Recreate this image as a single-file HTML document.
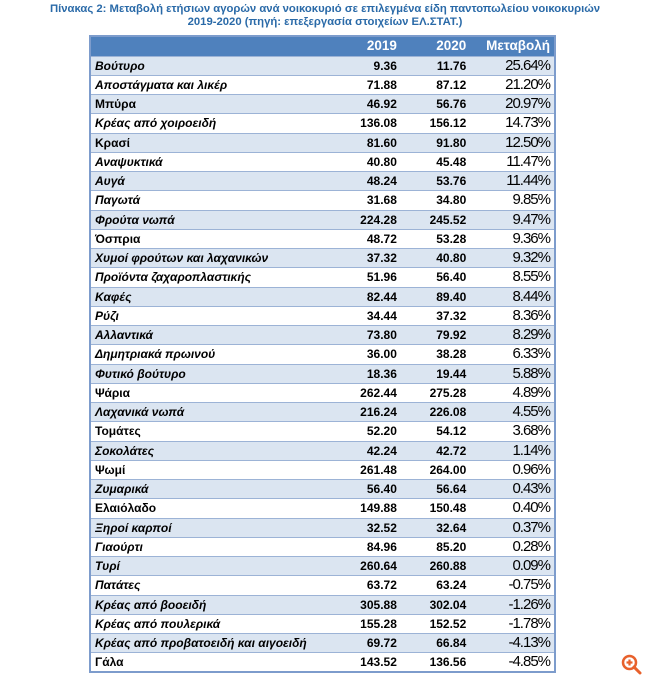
<!DOCTYPE html>
<html><head><meta charset="utf-8">
<style>
body{margin:0;width:650px;height:681px;background:#fff;position:relative;font-family:"Liberation Sans",Arial,sans-serif;overflow:hidden}
.title{position:absolute;left:0;top:3px;width:650px;text-align:center;color:#2a6aa8;font-weight:bold;font-size:11.3px;line-height:13px}
table{position:absolute;left:89px;top:35px;width:467px;border-collapse:collapse;border:2px solid #7d9ccc}
tr{height:19.25px}
td{padding:0 4px;font-size:12px;font-weight:bold;border-bottom:1px solid #9cb3d6;white-space:nowrap;line-height:14px}
tr.h{height:20px}
tr.h td{background:#4f81bd;color:#fff;font-size:13.5px;text-align:right}
tr.b td{background:#dbe5f1}
td.n{text-align:left}
td.v{text-align:right}
td.p{text-align:right;font-weight:normal;font-size:15px;letter-spacing:-1px}
</style></head><body>
<div class="title">Πίνακας 2: Μεταβολή ετήσιων αγορών ανά νοικοκυριό σε επιλεγμένα είδη παντοπωλείου νοικοκυριών<br>2019-2020 (πηγή: επεξεργασία στοιχείων ΕΛ.ΣΤΑΤ.)</div>
<table>
<colgroup><col style="width:237px"><col style="width:75px"><col style="width:70px"><col style="width:85px"></colgroup>
<tbody id="tb">
<tr class="h"><td></td><td>2019</td><td>2020</td><td>Μεταβολή</td></tr>
</tbody></table>
<svg style="position:absolute;left:620px;top:653px" width="24" height="24" viewBox="0 0 24 24"><circle cx="9.5" cy="9.5" r="6.5" fill="none" stroke="#e8612c" stroke-width="2.5"/><line x1="14" y1="14" x2="20" y2="20" stroke="#e8612c" stroke-width="3" stroke-linecap="round"/><line x1="6.5" y1="9.5" x2="12.5" y2="9.5" stroke="#e8612c" stroke-width="2.2"/><line x1="9.5" y1="6.5" x2="9.5" y2="12.5" stroke="#e8612c" stroke-width="2.2"/></svg>
<script>
const names=["Βούτυρο","Αποστάγματα και λικέρ","Μπύρα","Κρέας από χοιροειδή","Κρασί","Αναψυκτικά","Αυγά","Παγωτά","Φρούτα νωπά","Όσπρια","Χυμοί φρούτων και λαχανικών","Προϊόντα ζαχαροπλαστικής","Καφές","Ρύζι","Αλλαντικά","Δημητριακά πρωινού","Φυτικό βούτυρο","Ψάρια","Λαχανικά νωπά","Τομάτες","Σοκολάτες","Ψωμί","Ζυμαρικά","Ελαιόλαδο","Ξηροί καρποί","Γιαούρτι","Τυρί","Πατάτες","Κρέας από βοοειδή","Κρέας από πουλερικά","Κρέας από προβατοειδή και αιγοειδή","Γάλα"];
const v2019=["9.36","71.88","46.92","136.08","81.60","40.80","48.24","31.68","224.28","48.72","37.32","51.96","82.44","34.44","73.80","36.00","18.36","262.44","216.24","52.20","42.24","261.48","56.40","149.88","32.52","84.96","260.64","63.72","305.88","155.28","69.72","143.52"];
const v2020=["11.76","87.12","56.76","156.12","91.80","45.48","53.76","34.80","245.52","53.28","40.80","56.40","89.40","37.32","79.92","38.28","19.44","275.28","226.08","54.12","42.72","264.00","56.64","150.48","32.64","85.20","260.88","63.24","302.04","152.52","66.84","136.56"];
const pct=["25.64%","21.20%","20.97%","14.73%","12.50%","11.47%","11.44%","9.85%","9.47%","9.36%","9.32%","8.55%","8.44%","8.36%","8.29%","6.33%","5.88%","4.89%","4.55%","3.68%","1.14%","0.96%","0.43%","0.40%","0.37%","0.28%","0.09%","-0.75%","-1.26%","-1.78%","-4.13%","-4.85%"];
const upright=["Μπύρα","Κρασί","Όσπρια","Ψάρια","Τομάτες","Ψωμί","Ελαιόλαδο","Γάλα"];
const tb=document.getElementById('tb');
names.forEach((n,i)=>{
  const tr=document.createElement('tr');
  
  
  if(i%2===0) tr.className='b';
  const nm=upright.includes(n)?n:'<i>'+n+'</i>';
  tr.innerHTML='<td class="n">'+nm+'</td><td class="v">'+v2019[i]+'</td><td class="v">'+v2020[i]+'</td><td class="p">'+pct[i]+'</td>';
  tb.appendChild(tr);
});
</script>
</body></html>
